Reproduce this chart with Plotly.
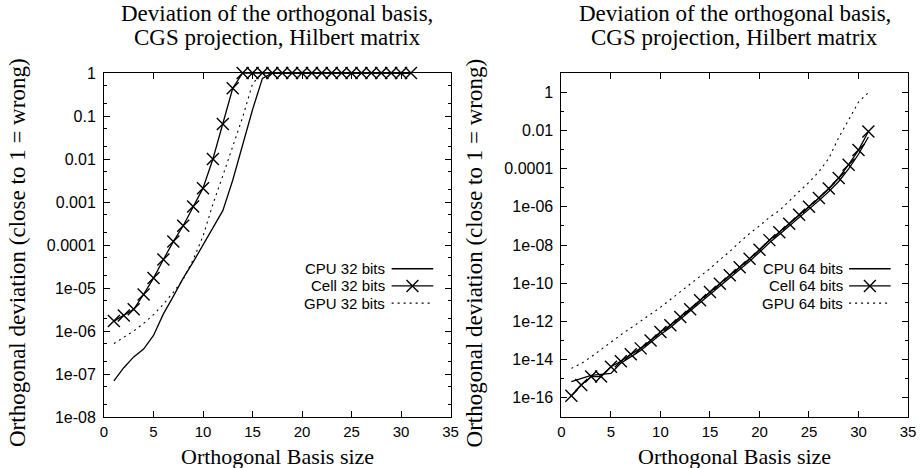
import plotly.graph_objects as go

# ---------------- data ----------------
basis_size = list(range(1, 32))

cpu32 = [6.9e-8, 1.4e-7, 2.5e-7, 3.8e-7, 7.9e-7, 2.5e-6, 6.4e-6, 1.7e-5, 4.0e-5, 9.8e-5,
         2.4e-4, 6.3e-4, 3.2e-3, 2.0e-2, 0.14, 0.75] + [1.0] * 15
cell32 = [1.7e-6, 2.3e-6, 3.2e-6, 7.1e-6, 1.7e-5, 4.6e-5, 1.2e-4, 2.8e-4, 7.9e-4, 2.1e-3,
          1.0e-2, 6.5e-2, 0.44] + [1.0] * 18
gpu32 = [5.1e-7, 7.1e-7, 1.0e-6, 1.5e-6, 2.4e-6, 4.2e-6, 7.9e-6, 1.6e-5, 4.5e-5, 1.6e-4,
         8.9e-4, 4.1e-3, 1.9e-2, 9.3e-2, 0.56] + [1.0] * 16

cpu64 = [7.1e-16, 1.05e-15, 1.5e-15, 1.7e-15, 1.9e-15, 6.6e-15, 1.4e-14, 3.0e-14, 7.9e-14, 2.1e-13,
         4.8e-13, 1.3e-12, 3.3e-12, 9.5e-12, 2.6e-11, 7.1e-11, 1.9e-10, 5.2e-10, 1.4e-9, 4.2e-9,
         1.3e-8, 3.5e-8, 9.5e-8, 2.8e-7, 7.6e-7, 2.1e-6, 6.3e-6, 2.1e-5, 9.5e-5, 5.6e-4, 4.5e-3]
cell64 = [1.3e-16, 4.7e-16, 1.3e-15, 1.3e-15, 4.3e-15, 8.3e-15, 1.9e-14, 3.9e-14, 1.0e-13, 2.8e-13,
          6.3e-13, 1.7e-12, 4.4e-12, 1.3e-11, 3.5e-11, 9.3e-11, 2.6e-10, 6.9e-10, 1.9e-9, 5.6e-9,
          1.8e-8, 4.7e-8, 1.3e-7, 3.8e-7, 1.0e-6, 2.9e-6, 9.1e-6, 3.2e-5, 1.6e-4, 9.3e-4, 8.7e-3]
gpu64 = [3.5e-15, 6.3e-15, 1.4e-14, 3.5e-14, 8.7e-14, 2.0e-13, 4.5e-13, 1.0e-12, 2.3e-12, 5.5e-12,
         1.4e-11, 3.6e-11, 9.3e-11, 2.2e-10, 5.8e-10, 1.7e-9, 4.6e-9, 1.4e-8, 4.0e-8, 1.0e-7,
         2.8e-7, 6.3e-7, 2.1e-6, 6.3e-6, 1.9e-5, 6.9e-5, 3.4e-4, 4.2e-3, 3.5e-2, 0.3, 0.95]

left_ticks = [1, 1e-1, 1e-2, 1e-3, 1e-4, 1e-5, 1e-6, 1e-7, 1e-8]
left_ticktext = ["1", "0.1", "0.01", "0.001", "0.0001", "1e-05", "1e-06", "1e-07", "1e-08"]
right_ticks = [1, 1e-2, 1e-4, 1e-6, 1e-8, 1e-10, 1e-12, 1e-14, 1e-16]
right_ticktext = ["1", "0.01", "0.0001", "1e-06", "1e-08", "1e-10", "1e-12", "1e-14", "1e-16"]
x_ticks = [0, 5, 10, 15, 20, 25, 30, 35]

title_line1 = "Deviation of the orthogonal basis,"
title_line2 = "CGS projection, Hilbert matrix"
x_title = "Orthogonal Basis size"
y_title = "Orthogonal deviation (close to 1 = wrong)"
left_names = ["CPU 32 bits", "Cell 32 bits", "GPU 32 bits"]
right_names = ["CPU 64 bits", "Cell 64 bits", "GPU 64 bits"]

# ---------------- styles ----------------
SERIF = "Liberation Serif"
SANS = "Liberation Sans"
LW = 1.3
solid = dict(color="black", width=LW)
dotted = dict(color="black", width=1.1, dash="2px,4px")

fig = go.Figure()


def add_panel(xa, ya, cpu, cell, gpu, names):
    fig.add_trace(go.Scatter(x=basis_size, y=cpu, mode="lines", line=solid, name=names[0],
                             xaxis=xa, yaxis=ya, showlegend=False, cliponaxis=False))
    fig.add_trace(go.Scatter(x=basis_size, y=cell, mode="lines+markers", line=solid, name=names[1],
                             marker=dict(symbol="x-thin", size=12, color="black",
                                         line=dict(color="black", width=1.4)),
                             xaxis=xa, yaxis=ya, showlegend=False, cliponaxis=False))
    fig.add_trace(go.Scatter(x=basis_size, y=gpu, mode="lines", line=dotted, name=names[2],
                             xaxis=xa, yaxis=ya, showlegend=False, cliponaxis=False))


add_panel("x", "y", cpu32, cell32, gpu32, left_names)
add_panel("x2", "y2", cpu64, cell64, gpu64, right_names)

left_minor = [m * 10.0 ** k for k in range(-8, 0) for m in (2, 5)]
right_minor = [10.0 ** k for k in range(-15, 0, 2)]

xcommon = dict(range=[0, 35], tickvals=x_ticks, ticks="inside", ticklen=6, tickcolor="black",
               showline=True, linecolor="black", linewidth=1, mirror="allticks",
               showgrid=False, zeroline=False, ticklabelstandoff=1,
               tickfont=dict(family=SANS, size=15, color="black"))
ycommon = dict(type="log", ticks="inside", ticklen=6, tickcolor="black",
               showline=True, linecolor="black", linewidth=1, mirror="allticks",
               showgrid=False, zeroline=False, ticklabelstandoff=4,
               tickfont=dict(family=SANS, size=16, color="black"))

fig.update_layout(
    width=924, height=468,
    margin=dict(l=104, r=8, t=73, b=51),
    paper_bgcolor="white", plot_bgcolor="white",
    xaxis=dict(domain=[0, 0.43103], anchor="y", **xcommon),
    yaxis=dict(domain=[0, 1], anchor="x", range=[-8, 0], tickvals=left_ticks,
               ticktext=left_ticktext,
               minor=dict(tickvals=left_minor, ticks="inside", ticklen=3, tickcolor="black"),
               **ycommon),
    xaxis2=dict(domain=[0.56897, 1], anchor="y2", **xcommon),
    yaxis2=dict(domain=[0, 1], anchor="x2", range=[-17, 1], tickvals=right_ticks,
                ticktext=right_ticktext,
                minor=dict(tickvals=right_minor, ticks="inside", ticklen=3, tickcolor="black"),
                **ycommon),
    showlegend=False,
)

ann = []
shapes = []
for xd, yd in (("x domain", "y domain"), ("x2 domain", "y2 domain")):
    ann.append(dict(text=title_line1, x=0.5, xref=xd, y=1, yref="paper", yanchor="middle",
                    yshift=60, showarrow=False, font=dict(family=SERIF, size=23, color="black")))
    ann.append(dict(text=title_line2, x=0.5, xref=xd, y=1, yref="paper", yanchor="middle",
                    yshift=36, showarrow=False, font=dict(family=SERIF, size=23, color="black")))
    ann.append(dict(text=x_title, x=0.5, xref=xd, y=0, yref="paper", yanchor="middle",
                    yshift=-39, showarrow=False, font=dict(family=SERIF, size=22, color="black")))
    ann.append(dict(text=y_title, x=0, xref=xd, y=0.5, yref=yd, xanchor="center",
                    yanchor="middle", xshift=-87, yshift=-8, textangle=-90, showarrow=False,
                    font=dict(family=SERIF, size=23, color="black")))

legend_rows = [0.431, 0.381, 0.331]
for (xd, yd), names in ((("x domain", "y domain"), left_names),
                        (("x2 domain", "y2 domain"), right_names)):
    for i, (nm, yrow) in enumerate(zip(names, legend_rows)):
        ann.append(dict(text=nm, x=0.818, xref=xd, y=yrow, yref=yd, xanchor="right",
                        yanchor="middle", showarrow=False,
                        font=dict(family=SANS, size=15, color="black")))
        style = dotted if i == 2 else solid
        shapes.append(dict(type="line", xref=xd, yref=yd, x0=0.83, x1=0.95, y0=yrow, y1=yrow,
                           line=style))
        if i == 1:
            dx, dy = 6 / 350, 6 / 344
            shapes.append(dict(type="line", xref=xd, yref=yd, x0=0.89 - dx, x1=0.89 + dx,
                               y0=yrow - dy, y1=yrow + dy, line=dict(color="black", width=1.4)))
            shapes.append(dict(type="line", xref=xd, yref=yd, x0=0.89 - dx, x1=0.89 + dx,
                               y0=yrow + dy, y1=yrow - dy, line=dict(color="black", width=1.4)))

fig.update_layout(annotations=ann, shapes=shapes)
fig.write_html("out.html")
